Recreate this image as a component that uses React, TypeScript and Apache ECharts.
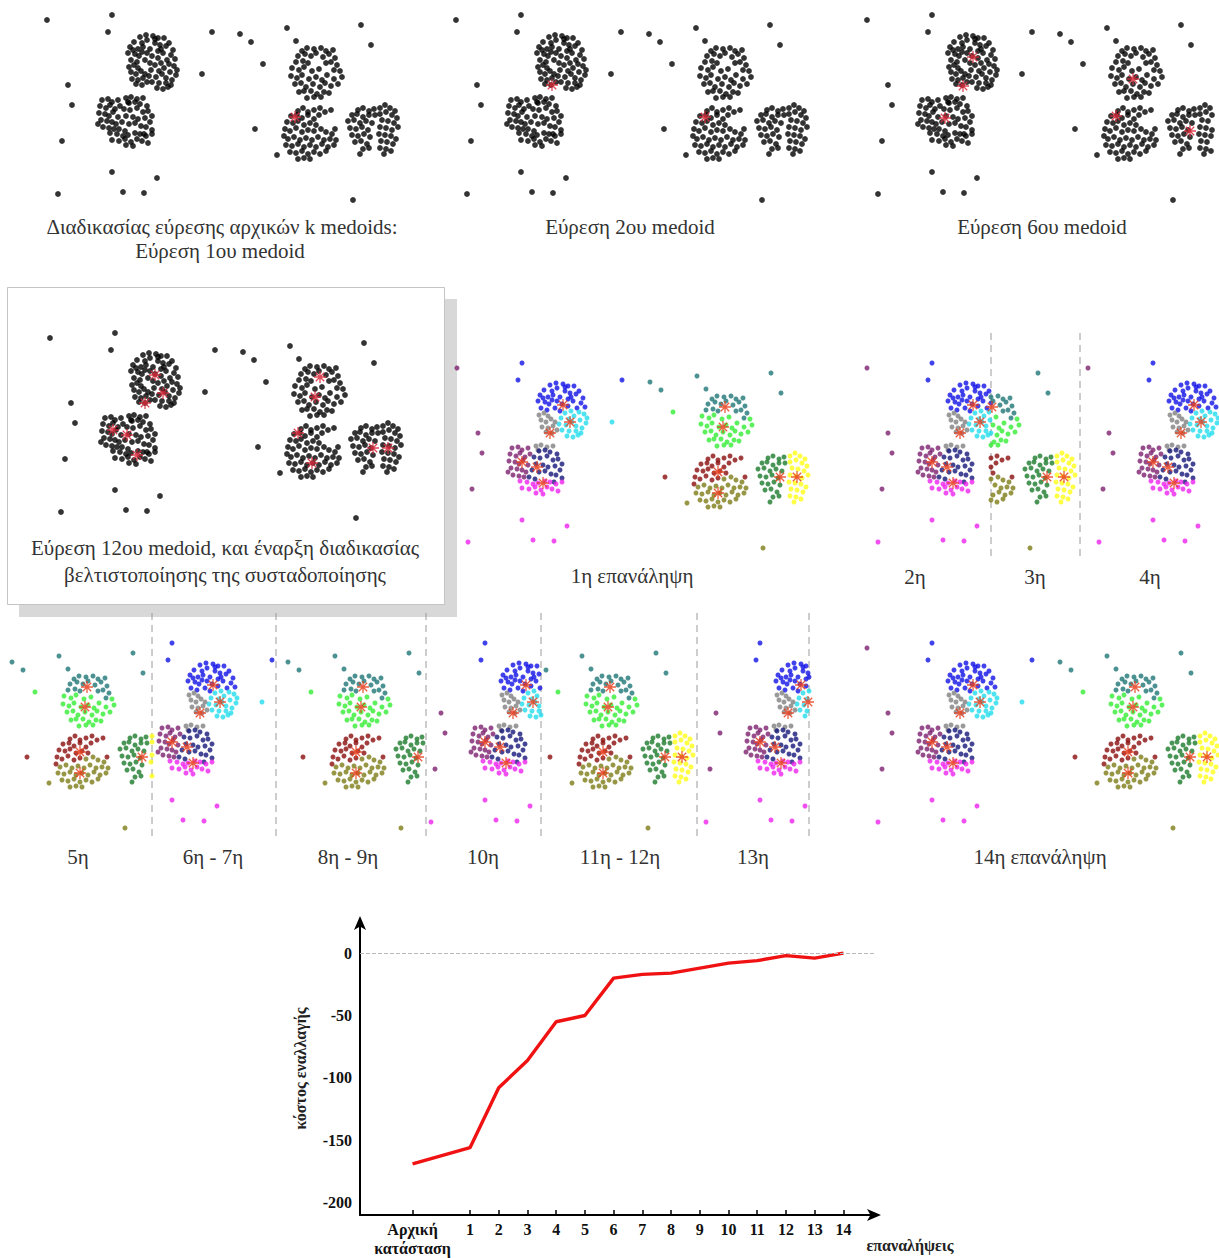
import React, { useEffect, useRef } from "react";
import * as echarts from "echarts";

// ---- Point cloud (scene coordinates, y grows downward), grouped by final cluster ----
const bluePts = [[100,45],[106,43],[113,44],[118,46],[124,46],[129,51],[94,50],[102,51],[107,48],[115,51],[120,53],[126,54],[133,58],[90,55],[98,57],[103,55],[110,57],[118,59],[123,61],[131,63],[135,67],[88,61],[95,62],[99,64],[107,61],[112,64],[118,66],[127,68],[91,68],[97,70],[105,68],[110,71],[115,47],[121,57],[93,58],[102,60],[72,23],[68,40],[172,40]];
const cyanPts = [[115,73],[121,71],[129,72],[134,74],[137,78],[111,78],[119,79],[124,76],[130,80],[136,83],[109,84],[116,85],[122,82],[126,86],[132,88],[112,90],[119,91],[126,91],[131,93],[117,96],[123,97],[128,95],[162,82]];
const grayPts = [[89,75],[94,73],[98,76],[91,80],[96,82],[101,79],[105,82],[92,87],[98,88],[103,86],[107,90],[96,92],[102,93],[86,106],[91,105],[97,107],[103,106],[88,110]];
const purplePts = [[62,108],[68,107],[72,110],[78,108],[60,114],[66,116],[70,113],[75,117],[80,114],[59,121],[65,122],[69,124],[73,120],[78,125],[61,128],[67,129],[72,130],[76,132],[63,135],[69,136],[74,137],[58,132],[7,28],[28,93],[32,113],[22,149]];
const navyPts = [[89,111],[95,110],[100,112],[107,114],[84,117],[90,118],[97,116],[103,120],[108,119],[112,124],[86,124],[93,125],[98,127],[105,126],[110,130],[82,130],[89,132],[95,131],[101,134],[106,135],[112,138],[79,137],[85,139],[104,142]];
const magentaPts = [[70,141],[77,142],[83,144],[88,143],[95,141],[100,142],[106,144],[112,142],[72,148],[79,149],[85,147],[91,150],[97,147],[102,149],[108,151],[86,153],[93,154],[72,180],[117,186],[18,202],[83,200],[104,201]];
const tealPts = [[262,59],[267,56],[274,57],[281,56],[286,59],[293,58],[258,64],[265,62],[271,64],[276,61],[283,65],[289,62],[295,66],[256,70],[263,69],[268,71],[286,71],[291,70],[297,73],[294,78],[200,42],[211,50],[247,36],[256,49],[321,33],[331,53]];
const greenPts = [[252,76],[259,78],[264,75],[272,79],[279,77],[300,79],[251,84],[257,86],[262,83],[269,87],[276,85],[282,88],[287,83],[294,87],[302,85],[255,92],[261,91],[266,95],[273,92],[280,95],[285,91],[291,94],[298,92],[259,100],[264,99],[271,99],[277,102],[284,100],[289,101],[267,106],[274,105],[281,105],[223,72]];
const darkRedPts = [[258,119],[263,116],[268,120],[274,118],[280,116],[285,120],[291,118],[251,124],[257,123],[262,126],[268,123],[274,127],[279,123],[247,130],[253,131],[258,129],[264,133],[270,131],[276,133],[245,137],[250,139],[256,136],[262,140],[268,138],[295,137],[244,144],[215,137]];
const olivePts = [[274,139],[281,137],[286,140],[292,142],[248,147],[254,145],[260,148],[266,146],[272,148],[278,145],[284,148],[290,147],[296,148],[246,153],[252,154],[258,152],[264,155],[270,153],[276,155],[282,152],[288,155],[294,153],[250,160],[256,161],[262,159],[268,162],[274,160],[280,162],[286,159],[258,167],[264,166],[270,167],[237,163],[313,208]];
const darkGreenPts = [[318,118],[323,116],[329,119],[334,117],[312,123],[317,122],[323,125],[329,123],[335,123],[308,129],[314,128],[320,131],[326,129],[332,131],[310,136],[316,137],[322,135],[328,138],[312,143],[318,144],[324,142],[330,145],[315,150],[321,149],[327,152],[323,157],[329,156],[320,162]];
const yellowPts = [[340,116],[345,113],[350,116],[355,119],[340,122],[346,120],[352,123],[357,126],[342,128],[348,129],[354,131],[358,135],[340,135],[346,136],[352,138],[339,142],[345,143],[351,144],[356,147],[341,149],[347,150],[353,152],[340,156],[346,157],[351,159],[344,162]];

// ---- Medoids found at each stage ----
const medoidsStep1 = [[255,125]];
const medoidsStep2 = [[103,93],[256,125]];
const medoidsStep6 = [[113,65],[103,94],[85,126],[273,87],[256,124],[330,139]];
const medoidsStep12 = [[112,65],[120,83],[102,93],[70,120],[84,125],[94,145],[277,67],[272,87],[255,123],[269,153],[330,138],[345,138]];
const medoidsIter = [[113,65],[120,82],[100,93],[72,122],[87,127],[93,143],[275,67],[273,87],[268,132],[268,153],[330,137],[347,137]];

// ---- Swap cost per iteration ----
const iterationLabels = ["Αρχική\nκατάσταση","1","2","3","4","5","6","7","8","9","10","11","12","13","14"];
const iterationX = [-1,1,2,3,4,5,6,7,8,9,10,11,12,13,14];
const swapCost = [-169,-156,-108,-86,-55,-50,-20,-17,-16,-12,-8,-6,-2,-4,0];
const costTicks = [0,-50,-100,-150,-200];

const FONT = "Liberation Serif, DejaVu Serif, serif";
const STAR = "path://M10,0L10,20M0,10L20,10M3,3L17,17M3,17L17,3";

const clusterGroups = [
  { pts: bluePts, color: "#1212e6" },
  { pts: cyanPts, color: "#22dcec" },
  { pts: grayPts, color: "#808080" },
  { pts: purplePts, color: "#7c1e6e" },
  { pts: navyPts, color: "#15157a" },
  { pts: magentaPts, color: "#ee22ee" },
  { pts: tealPts, color: "#1f7676" },
  { pts: greenPts, color: "#33ee33" },
  { pts: darkRedPts, color: "#8a0c0c" },
  { pts: olivePts, color: "#7c7c16" },
  { pts: darkGreenPts, color: "#1b7a2b" },
  { pts: yellowPts, color: "#ffff14" },
];

type Panel = { rect: number[]; off: number[]; colored: boolean; medoids: number[][] };

const panels: Panel[] = [
  { rect: [0, 0, 425, 212], off: [40, -8], colored: false, medoids: medoidsStep1 },
  { rect: [425, 0, 425, 212], off: [449, -8], colored: false, medoids: medoidsStep2 },
  { rect: [850, 0, 362, 212], off: [860, -8], colored: false, medoids: medoidsStep6 },
  { rect: [9, 289, 435, 240], off: [43, 310], colored: false, medoids: medoidsStep12 },
  { rect: [448, 332, 412, 228], off: [450, 340], colored: true, medoids: medoidsIter },
  { rect: [860, 332, 131, 228], off: [860, 340], colored: true, medoids: medoidsIter },
  { rect: [991, 332, 89, 228], off: [717, 340], colored: true, medoids: medoidsIter },
  { rect: [1080, 332, 139, 228], off: [1081, 340], colored: true, medoids: medoidsIter },
  { rect: [0, 615, 152, 225], off: [-188, 620], colored: true, medoids: medoidsIter },
  { rect: [152, 615, 124, 225], off: [100, 620], colored: true, medoids: medoidsIter },
  { rect: [276, 615, 150, 225], off: [88, 620], colored: true, medoids: medoidsIter },
  { rect: [426, 615, 115, 225], off: [413, 620], colored: true, medoids: medoidsIter },
  { rect: [541, 615, 156, 225], off: [335, 620], colored: true, medoids: medoidsIter },
  { rect: [697, 615, 112, 225], off: [688, 620], colored: true, medoids: medoidsIter },
  { rect: [809, 615, 410, 225], off: [860, 620], colored: true, medoids: medoidsIter },
];

const captions = [
  { text: "Διαδικασίας εύρεσης αρχικών k medoids:", x: 222, y: 227 },
  { text: "Εύρεση 1ου medoid", x: 220, y: 251 },
  { text: "Εύρεση 2ου medoid", x: 630, y: 227 },
  { text: "Εύρεση 6ου medoid", x: 1042, y: 227 },
  { text: "Εύρεση 12ου medoid, και έναρξη διαδικασίας", x: 225, y: 548 },
  { text: "βελτιστοποίησης της συσταδοποίησης", x: 225, y: 575 },
  { text: "1η επανάληψη", x: 632, y: 576 },
  { text: "2η", x: 915, y: 577 },
  { text: "3η", x: 1035, y: 577 },
  { text: "4η", x: 1150, y: 577 },
  { text: "5η", x: 78, y: 857 },
  { text: "6η - 7η", x: 213, y: 857 },
  { text: "8η - 9η", x: 348, y: 857 },
  { text: "10η", x: 483, y: 857 },
  { text: "11η - 12η", x: 620, y: 857 },
  { text: "13η", x: 753, y: 857 },
  { text: "14η επανάληψη", x: 1040, y: 857 },
];

const separators = [
  { x: 991, y1: 333, y2: 558 },
  { x: 1080, y1: 333, y2: 558 },
  { x: 152, y1: 613, y2: 838 },
  { x: 276, y1: 613, y2: 838 },
  { x: 426, y1: 613, y2: 838 },
  { x: 541, y1: 613, y2: 838 },
  { x: 697, y1: 613, y2: 838 },
  { x: 809, y1: 613, y2: 838 },
];

function buildOption() {
  const grids: any[] = [];
  const xAxes: any[] = [];
  const yAxes: any[] = [];
  const series: any[] = [];
  const allPts = clusterGroups.flatMap((g) => g.pts);

  panels.forEach((p, i) => {
    const [left, top, width, height] = p.rect;
    grids.push({ left, top, width, height });
    xAxes.push({ gridIndex: i, type: "value", min: left - p.off[0], max: left + width - p.off[0], show: false });
    yAxes.push({ gridIndex: i, type: "value", inverse: true, min: top - p.off[1], max: top + height - p.off[1], show: false });
    if (p.colored) {
      clusterGroups.forEach((g) => {
        series.push({
          type: "scatter", xAxisIndex: i, yAxisIndex: i, data: g.pts, symbolSize: 5,
          itemStyle: { color: g.color }, silent: true, clip: true, z: 2,
        });
      });
    } else {
      series.push({
        type: "scatter", xAxisIndex: i, yAxisIndex: i, data: allPts, symbolSize: 5.8,
        itemStyle: { color: "#000" }, silent: true, clip: true, z: 2,
      });
    }
    series.push({
      type: "scatter", xAxisIndex: i, yAxisIndex: i, data: p.medoids, symbol: STAR, symbolSize: 12,
      itemStyle: { color: "transparent", borderColor: p.colored ? "#e8401e" : "#d8283a", borderWidth: 1.3, opacity: 0.85 },
      silent: true, clip: true, z: 3,
    });
  });

  // Swap-cost line chart
  const li = panels.length;
  grids.push({ left: 360, top: 922, width: 515, height: 296 });
  xAxes.push({
    gridIndex: li, type: "value", min: -2.83, max: 15.1, position: "bottom",
    axisLine: { show: true, onZero: false, symbol: ["none", "arrow"], symbolSize: [9, 14], symbolOffset: [0, 6], lineStyle: { color: "#000", width: 2 } },
    axisTick: { show: true, inside: true, length: 5, customValues: iterationX, lineStyle: { color: "#000", width: 1.5 } },
    axisLabel: {
      customValues: iterationX, margin: 5, color: "#111", fontFamily: FONT, fontWeight: "bold", fontSize: 16, lineHeight: 19,
      formatter: (v: number) => { const k = iterationX.indexOf(v); return k >= 0 ? iterationLabels[k] : ""; },
    },
    splitLine: { show: false },
  });
  yAxes.push({
    gridIndex: li, type: "value", min: -210, max: 25,
    axisLine: { show: true, onZero: false, symbol: ["none", "arrow"], symbolSize: [9, 14], symbolOffset: [0, 6], lineStyle: { color: "#000", width: 2 } },
    axisTick: { show: false },
    axisLabel: { customValues: costTicks, margin: 8, color: "#111", fontFamily: FONT, fontWeight: "bold", fontSize: 16 },
    splitLine: { show: false },
    name: "κόστος εναλλαγής", nameLocation: "middle", nameRotate: 90, nameGap: 52,
    nameTextStyle: { fontFamily: FONT, fontWeight: "bold", fontSize: 16, color: "#222" },
  });
  series.push({
    type: "line", xAxisIndex: li, yAxisIndex: li,
    data: iterationX.map((x, k) => [x, swapCost[k]]),
    symbol: "none", lineStyle: { color: "#f01212", width: 3.4 }, silent: true, z: 3,
    markLine: {
      silent: true, symbol: ["none", "none"], label: { show: false },
      lineStyle: { type: "dashed", color: "#b8b8b8", width: 1 },
      data: [{ yAxis: 0 }],
    },
  });

  const graphics: any[] = [
    { type: "rect", shape: { x: 19, y: 299, width: 438, height: 318 }, style: { fill: "#d8d8d8" }, z: 0 },
    { type: "rect", shape: { x: 7.5, y: 287.5, width: 437, height: 317 }, style: { fill: "#fff", stroke: "#c4c4c4", lineWidth: 1 }, z: 0 },
  ];
  separators.forEach((s) => {
    graphics.push({
      type: "line", shape: { x1: s.x, y1: s.y1, x2: s.x, y2: s.y2 },
      style: { stroke: "#9a9a9a", lineWidth: 1, lineDash: [7, 5] }, z: 1,
    });
  });
  captions.forEach((c) => {
    graphics.push({
      type: "text", x: c.x, y: c.y, z: 5,
      style: { text: c.text, align: "center", verticalAlign: "middle", fontFamily: FONT, fontSize: 21, fill: "#333" },
    });
  });
  graphics.push({
    type: "text", x: 910, y: 1245, z: 5,
    style: { text: "επαναλήψεις", align: "center", verticalAlign: "middle", fontFamily: FONT, fontWeight: "bold", fontSize: 16, fill: "#222" },
  });

  return {
    animation: false,
    backgroundColor: "#fff",
    grid: grids,
    xAxis: xAxes,
    yAxis: yAxes,
    series,
    graphic: { elements: graphics },
  };
}

export default function App() {
  const ref = useRef<HTMLDivElement>(null);
  useEffect(() => {
    document.body.style.margin = "0";
    document.body.style.overflow = "hidden";
    if (!ref.current) return;
    const chart = echarts.init(ref.current, undefined, { renderer: "svg" });
    chart.setOption(buildOption());
    return () => chart.dispose();
  }, []);
  return <div ref={ref} style={{ position: "absolute", left: 0, top: 0, width: 1219, height: 1258 }} />;
}
